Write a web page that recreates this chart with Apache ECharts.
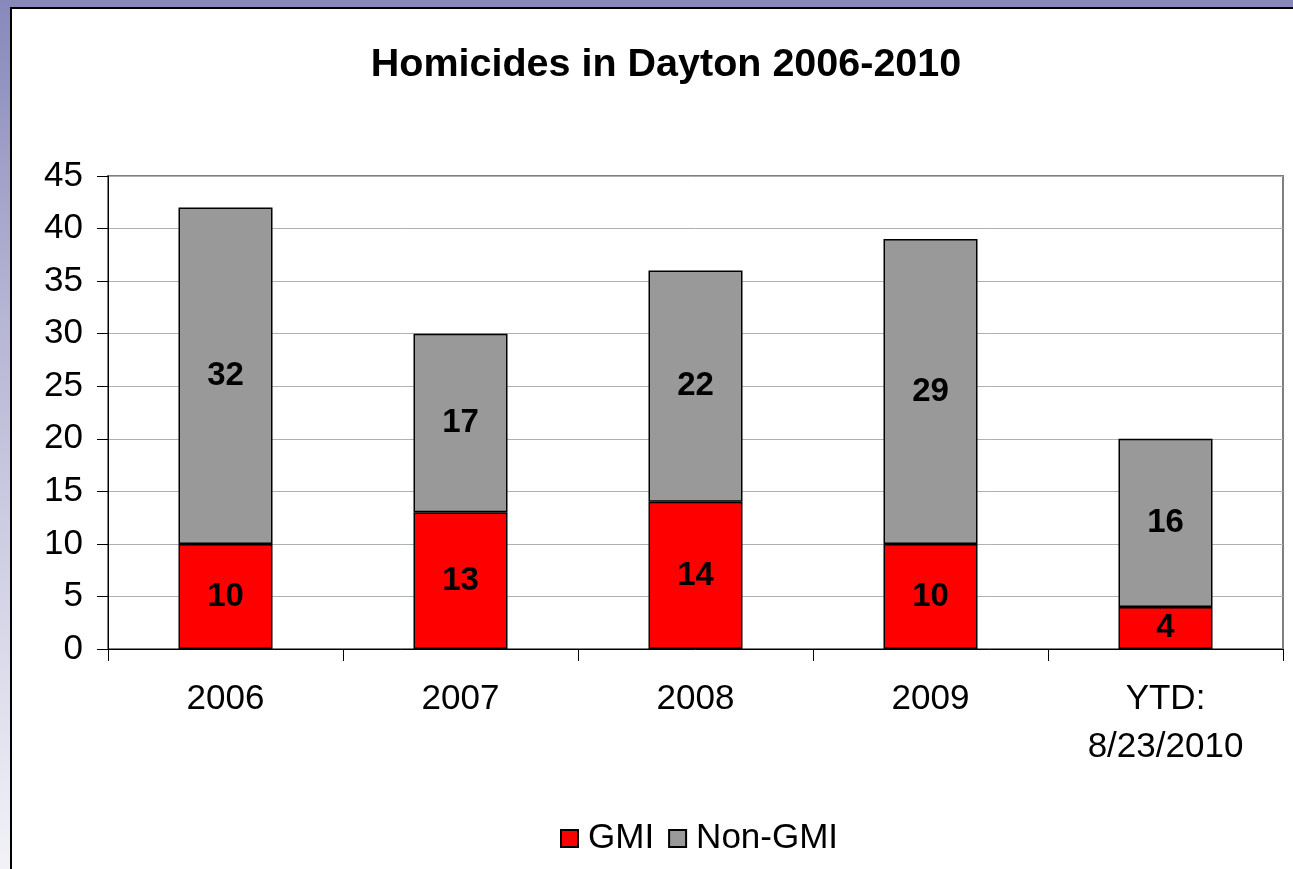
<!DOCTYPE html>
<html>
<head>
<meta charset="utf-8">
<script src="https://cdn.jsdelivr.net/npm/echarts@6/dist/echarts.min.js"></script>
<style>
  html, body { margin: 0; padding: 0; }
  body {
    width: 1293px; height: 869px; overflow: hidden; position: relative;
    background: linear-gradient(to bottom, #8888bb 0%, #b4b4d4 35%, #f2f2f8 100%);
  }
  #frame {
    position: absolute; left: 10px; top: 7px; width: 1290px; height: 870px;
    background: #fff; border-left: 2px solid #000; border-top: 2px solid #000;
  }
  #main { position: absolute; left: 0; top: 0; width: 1293px; height: 869px; }
</style>
</head>
<body>
<div id="frame"></div>
<div id="main"></div>
<script>
// categories and values
let years = ['2006', '2007', '2008', '2009', 'YTD:\n8/23/2010'];
let gmi = [10, 13, 14, 10, 4];
let nonGmi = [32, 17, 22, 29, 16];

let myChart = echarts.init(document.getElementById('main'));
let font = '"Liberation Sans", Arial, sans-serif';
let barLabel = {
  show: true,
  position: 'inside',
  color: '#000',
  fontWeight: 'bold',
  fontSize: 33,
  fontFamily: font
};
let option = {
  backgroundColor: 'transparent',
  animation: false,
  textStyle: {fontFamily: font},
  title: {
    text: 'Homicides in Dayton 2006-2010',
    left: 661,
    textAlign: 'center',
    top: 40,
    textStyle: {fontSize: 39.5, fontWeight: 'bold', color: '#000', fontFamily: font}
  },
  legend: {
    bottom: 8,
    left: 555,
    icon: 'rect',
    itemWidth: 17,
    itemHeight: 17,
    itemGap: 14,
    textStyle: {fontSize: 35, color: '#000', fontFamily: font, padding: [0, 0, 0, 5]},
    data: [
      {name: 'GMI', itemStyle: {borderColor: '#000', borderWidth: 2}},
      {name: 'Non-GMI', itemStyle: {borderColor: '#000', borderWidth: 2}}
    ]
  },
  grid: {
    left: 108, right: 10, top: 176, bottom: 220,
    show: true, borderColor: '#808080', borderWidth: 2
  },
  xAxis: {
    type: 'category',
    data: years,
    axisLine: {lineStyle: {color: '#000', width: 1}},
    axisTick: {show: true, length: 12, lineStyle: {color: '#000'}},
    axisLabel: {
      color: '#000', fontSize: 35, fontFamily: font, margin: 26, lineHeight: 48
    }
  },
  yAxis: {
    type: 'value',
    min: 0, max: 45, interval: 5,
    axisLine: {show: true, lineStyle: {color: '#000', width: 1}},
    axisTick: {show: true, length: 11, lineStyle: {color: '#000'}},
    axisLabel: {color: '#000', fontSize: 35, fontFamily: font, margin: 25},
    splitLine: {lineStyle: {color: '#b0b0b0', width: 1}}
  },
  series: [
    {
      name: 'GMI', type: 'bar', stack: 'total', barWidth: '40%',
      itemStyle: {color: '#ff0000', borderColor: '#000', borderWidth: 1.5},
      label: barLabel,
      data: gmi
    },
    {
      name: 'Non-GMI', type: 'bar', stack: 'total', barWidth: '40%',
      itemStyle: {color: '#999999', borderColor: '#000', borderWidth: 1.5},
      label: barLabel,
      data: nonGmi
    }
  ]
};
myChart.setOption(option);
</script>
</body>
</html>
